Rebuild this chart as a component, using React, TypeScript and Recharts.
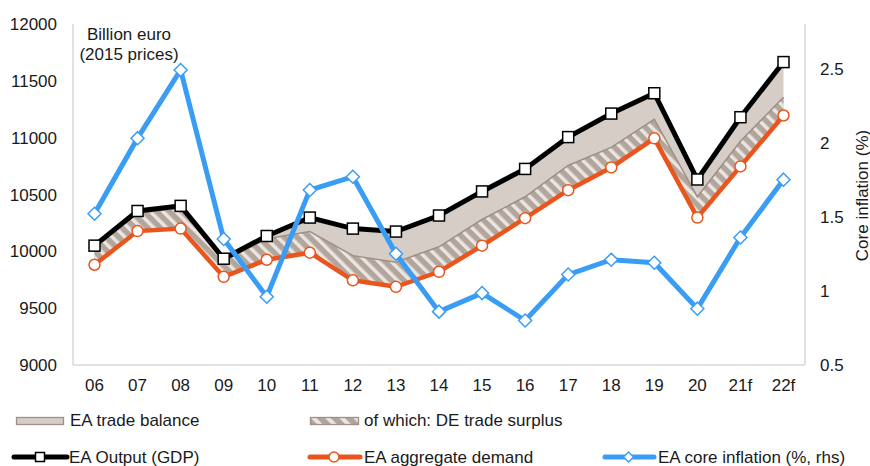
import React from "react";
import { ComposedChart, Line, Area, XAxis, YAxis } from "recharts";

const years = ["06", "07", "08", "09", "10", "11", "12", "13", "14", "15", "16", "17", "18", "19", "20", "21f", "22f"];
const gdp = [10050, 10355, 10400, 9935, 10135, 10297, 10200, 10174, 10315, 10527, 10725, 11005, 11212, 11391, 10632, 11180, 11665];
const demand = [9882, 10178, 10200, 9776, 9926, 9988, 9745, 9688, 9820, 10050, 10292, 10538, 10738, 10994, 10297, 10747, 11195];
const deSurplus = [150, 157, 180, 139, 184, 186, 217, 217, 220, 230, 188, 217, 177, 168, 183, 221, 161];
const coreInflation = [1.52, 2.03, 2.49, 1.35, 0.96, 1.68, 1.77, 1.25, 0.86, 0.985, 0.8, 1.11, 1.21, 1.19, 0.88, 1.36, 1.75];
const leftTicks = [9000, 9500, 10000, 10500, 11000, 11500, 12000];
const rightTicks = [0.5, 1, 1.5, 2, 2.5];

const data = years.map((year, i) => ({
  year,
  gdp: gdp[i],
  demand: demand[i],
  deTop: demand[i] + deSurplus[i],
  core: coreInflation[i],
}));

const FONT = '"Liberation Sans", Arial, sans-serif';
const BLACK = "#000000";
const ORANGE = "#e9551d";
const BLUE = "#3a9df5";
const BEIGE = "#d6cdc6";
const BORDER = "#9e8f86";
const AXIS = "#d9d9d9";

const SquareDot = (props: any) => {
  const { cx, cy, index } = props;
  if (cx == null || cy == null) return null;
  return <rect key={`sq-${index}`} x={cx - 5.5} y={cy - 5.5} width={11} height={11} fill="#fff" stroke={BLACK} strokeWidth={1.5} />;
};

const CircleDot = (props: any) => {
  const { cx, cy, index } = props;
  if (cx == null || cy == null) return null;
  return <circle key={`ci-${index}`} cx={cx} cy={cy} r={5.5} fill="#fff" stroke={ORANGE} strokeWidth={1.5} />;
};

const DiamondDot = (props: any) => {
  const { cx, cy, index } = props;
  if (cx == null || cy == null) return null;
  const d = 6.5;
  return (
    <path
      key={`di-${index}`}
      d={`M${cx},${cy - d}L${cx + d},${cy}L${cx},${cy + d}L${cx - d},${cy}Z`}
      fill="#fff"
      stroke={BLUE}
      strokeWidth={1.5}
    />
  );
};

const LegendText = ({ x, y, children }: { x: number; y: number; children: string }) => (
  <text x={x} y={y} fontSize={17} fill="#1a1a1a">
    {children}
  </text>
);

// legend drawn below the plot, rows at y≈421 and y≈457
const ChartLegend = () => (
  <svg width={870} height={76} style={{ position: "absolute", left: 0, top: 390, fontFamily: FONT }}>
    <defs>
      <pattern id="hatchLegend" patternUnits="userSpaceOnUse" width="10" height="10" patternTransform="rotate(-45)">
        <rect width="10" height="10" fill="#b2a59c" />
        <rect width="4" height="10" fill="#ebe5e1" />
      </pattern>
    </defs>
    <rect x={16.5} y={27.5} width={47} height={7} fill={BEIGE} stroke={BORDER} strokeWidth={1.3} />
    <LegendText x={70} y={36}>EA trade balance</LegendText>
    <rect x={310.5} y={27.5} width={48} height={7} fill="url(#hatchLegend)" stroke={BORDER} strokeWidth={1.3} />
    <LegendText x={364} y={36}>of which: DE trade surplus</LegendText>

    <line x1={14} x2={67} y1={67} y2={67} stroke={BLACK} strokeWidth={5} strokeLinecap="round" />
    <rect x={35.5} y={62.5} width={9} height={9} fill="#fff" stroke={BLACK} strokeWidth={1.5} />
    <LegendText x={69} y={73}>EA Output (GDP)</LegendText>

    <line x1={310} x2={360} y1={67} y2={67} stroke={ORANGE} strokeWidth={5} strokeLinecap="round" />
    <circle cx={334} cy={67} r={5} fill="#fff" stroke={ORANGE} strokeWidth={1.5} />
    <LegendText x={364} y={73}>EA aggregate demand</LegendText>

    <line x1={605} x2={654} y1={67} y2={67} stroke={BLUE} strokeWidth={5} strokeLinecap="round" />
    <path d="M628.5,62L633.5,67L628.5,72L623.5,67Z" fill="#fff" stroke={BLUE} strokeWidth={1.4} />
    <LegendText x={658} y={73}>EA core inflation (%, rhs)</LegendText>
  </svg>
);

export default function App() {
  return (
    <div style={{ position: "relative", width: 870, height: 466, fontFamily: FONT, background: "#fff" }}>
      <style>{"body{margin:0}"}</style>
      <ComposedChart width={870} height={395} data={data} margin={{ top: 24, right: 0, left: 0, bottom: 0 }}>
        <defs>
          <pattern id="hatch" patternUnits="userSpaceOnUse" width="9" height="9" patternTransform="rotate(-45)">
            <rect width="9" height="9" fill="#b2a59c" />
            <rect width="3.5" height="9" fill="#ebe5e1" />
          </pattern>
        </defs>
        <XAxis
          dataKey="year"
          scale="point"
          padding={{ left: 21.5, right: 21.5 }}
          interval={0}
          height={30}
          axisLine={{ stroke: AXIS, strokeWidth: 1.5 }}
          tickLine={false}
          tickMargin={8}
          tick={{ fill: "#1a1a1a", fontSize: 17 }}
        />
        <YAxis
          yAxisId="left"
          width={73}
          domain={[9000, 12000]}
          ticks={leftTicks}
          axisLine={{ stroke: AXIS, strokeWidth: 1.5 }}
          tickLine={false}
          tickMargin={10}
          tick={{ fill: "#1a1a1a", fontSize: 17 }}
        />
        <YAxis
          yAxisId="right"
          orientation="right"
          width={65}
          domain={[0.5, 2.8]}
          ticks={rightTicks}
          axisLine={{ stroke: AXIS, strokeWidth: 1.5 }}
          tickLine={false}
          tickMargin={9}
          tick={{ fill: "#1a1a1a", fontSize: 17 }}
        />
        <Area
          yAxisId="left"
          type="linear"
          dataKey={(d: any) => [d.demand, d.gdp]}
          fill={BEIGE}
          fillOpacity={1}
          stroke={BORDER}
          strokeWidth={1}
          isAnimationActive={false}
        />
        <Area
          yAxisId="left"
          type="linear"
          dataKey={(d: any) => [d.demand, d.deTop]}
          fill="url(#hatch)"
          fillOpacity={1}
          stroke={BORDER}
          strokeWidth={1.5}
          isAnimationActive={false}
        />
        <Line yAxisId="left" type="linear" dataKey="gdp" stroke={BLACK} strokeWidth={5} dot={SquareDot} activeDot={false} isAnimationActive={false} />
        <Line yAxisId="left" type="linear" dataKey="demand" stroke={ORANGE} strokeWidth={4.5} dot={CircleDot} activeDot={false} isAnimationActive={false} />
        <Line yAxisId="right" type="linear" dataKey="core" stroke={BLUE} strokeWidth={5} dot={DiamondDot} activeDot={false} isAnimationActive={false} />
      </ComposedChart>

      <div style={{ position: "absolute", left: 69, top: 25, width: 120, textAlign: "center", fontSize: 17, lineHeight: "19.5px", color: "#1a1a1a" }}>
        Billion euro
        <br />
        (2015 prices)
      </div>
      <div
        style={{
          position: "absolute",
          left: 762,
          top: 186.5,
          width: 200,
          height: 17,
          lineHeight: "17px",
          fontSize: 17,
          textAlign: "center",
          color: "#1a1a1a",
          transform: "rotate(-90deg)",
          transformOrigin: "100px 8.5px",
          whiteSpace: "nowrap",
        }}
      >
        Core inflation (%)
      </div>
      <ChartLegend />
    </div>
  );
}
